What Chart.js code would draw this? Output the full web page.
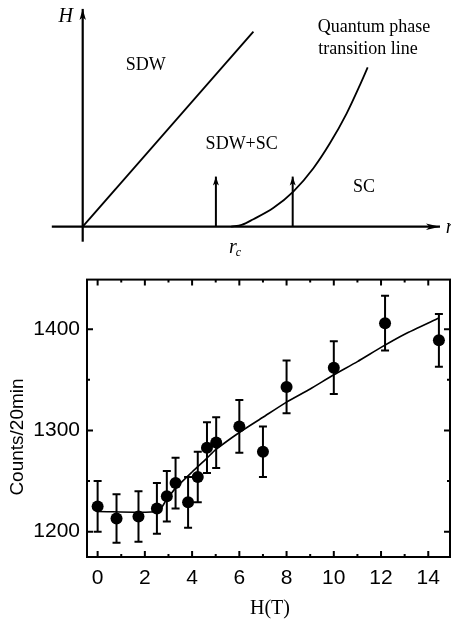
<!DOCTYPE html>
<html lang="en">
<head>
<meta charset="UTF-8">
<title>SDW phase diagram and counts vs field</title>
<script src="https://cdn.jsdelivr.net/npm/chart.js"></script>
<style>
  html, body { margin: 0; padding: 0; background: #fff; }
  body { width: 451px; height: 624px; overflow: hidden; position: relative; }
  #top { position: absolute; left: 0; top: 0; }
  /* the right frame of the lower plot is cropped in the original figure */
  #bottomWrap { position: absolute; left: 0; top: 260px; width: 451px; height: 364px; overflow: hidden; }
  #bottom { position: absolute; left: 0; top: 0; }
</style>
</head>
<body>
<canvas id="top" width="451" height="260"></canvas>
<div id="bottomWrap"><canvas id="bottom" width="456" height="364"></canvas></div>

<script>
// ---- schematic phase diagram (arbitrary units, origin at r=0, H=0)
const sdwR = [0, 5.69];
const sdwH = [0, 6.5];
const qptR = [4.95, 5.3, 5.69, 6.35, 7.02, 7.69, 8.24, 8.8, 9.24, 9.5];
const qptH = [0, 0.06, 0.25, 0.62, 1.17, 1.95, 2.78, 3.78, 4.72, 5.31];
const arrowR = [4.44, 7.0];
const arrowH = 1.67;
const rAxis = [-1.03, 11.91];
const hAxis = [-0.5, 7.26];
const phaseLabels = ['SDW', 'SDW+SC', 'SC', 'Quantum phase', 'transition line'];
const phaseLabelR = [2.1, 5.3, 9.38, 9.71, 9.51];
const phaseLabelH = [5.39, 2.75, 1.3, 6.65, 5.91];

// ---- counts vs field
const fieldT = [0, 0.8, 1.73, 2.51, 2.93, 3.3, 3.83, 4.24, 4.63, 5.02, 6.0, 7.0, 8.0, 10.0, 12.17, 14.45];
const counts = [1225, 1213, 1215, 1223, 1235, 1248, 1229, 1254, 1283, 1288, 1304, 1279, 1343, 1362, 1406, 1389];
const countErr = [25, 24, 25, 25, 25, 25, 25, 25, 25, 25, 26, 25, 26, 26, 27, 26];
const fitT = [0, 2.55, 2.9, 3.3, 4.0, 4.6, 5.0, 6, 7, 8, 9, 10, 11, 12, 13, 14.45];
const fitC = [1220, 1220, 1231, 1243, 1259, 1272, 1281, 1298, 1313, 1328, 1341, 1355, 1368, 1382, 1395, 1411];
const xMajor = [0, 2, 4, 6, 8, 10, 12, 14];
const xMinor = [1, 3, 5, 7, 9, 11, 13];
const yMajor = [1200, 1300, 1400];
const yMinor = [1250, 1350];

const pts = (xs, ys) => xs.map((x, i) => ({ x, y: ys[i] }));
const lineDs = (data, extra) => Object.assign({
  data, showLine: true, borderColor: '#000', backgroundColor: '#000',
  borderWidth: 2, pointRadius: 0, fill: false
}, extra);

const SERIF = '"Liberation Serif", "Times New Roman", serif';
const SANS = '"Liberation Sans", Arial, sans-serif';

// arrowheads at the last point of a dataset
const arrowPlugin = {
  id: 'arrows',
  afterDatasetsDraw(chart) {
    const ctx = chart.ctx;
    chart.data.datasets.forEach((ds, i) => {
      if (!ds.arrow) return;
      const els = chart.getDatasetMeta(i).data;
      const a = els[els.length - 2], b = els[els.length - 1];
      const ang = Math.atan2(b.y - a.y, b.x - a.x);
      const { len, half } = ds.arrow;
      ctx.save();
      ctx.translate(b.x, b.y);
      ctx.rotate(ang);
      ctx.beginPath();
      ctx.moveTo(0, 0);
      ctx.lineTo(-len, -half);
      ctx.lineTo(-len * 0.75, 0);
      ctx.lineTo(-len, half);
      ctx.closePath();
      ctx.fillStyle = '#000';
      ctx.fill();
      ctx.restore();
    });
  }
};

const phaseTextPlugin = {
  id: 'phaseText',
  afterDatasetsDraw(chart) {
    const { ctx, scales: { x, y } } = chart;
    ctx.save();
    ctx.fillStyle = '#000';
    ctx.textAlign = 'center';
    ctx.textBaseline = 'middle';
    ctx.font = '18px ' + SERIF;
    phaseLabels.forEach((t, i) => {
      ctx.fillText(t, x.getPixelForValue(phaseLabelR[i]), y.getPixelForValue(phaseLabelH[i]));
    });
    // axis names
    ctx.font = 'italic 20px ' + SERIF;
    ctx.fillText('H', x.getPixelForValue(-0.57), y.getPixelForValue(7.0));
    ctx.textAlign = 'left';
    ctx.fillText('r', x.getPixelForValue(12.1), y.getPixelForValue(-0.02));
    // r_c under the axis
    ctx.fillText('r', x.getPixelForValue(4.88), y.getPixelForValue(-0.7));
    ctx.font = 'italic 12px ' + SERIF;
    ctx.fillText('c', x.getPixelForValue(5.1), y.getPixelForValue(-0.88));
    ctx.restore();
  }
};

new Chart(document.getElementById('top'), {
  type: 'scatter',
  data: {
    datasets: [
      lineDs(pts(rAxis, [0, 0]), { borderWidth: 2.2, arrow: { len: 14, half: 3.2 } }),
      lineDs(pts([0, 0], hAxis), { borderWidth: 2.2, arrow: { len: 11, half: 3.2 } }),
      lineDs(pts(sdwR, sdwH), { borderWidth: 1.8 }),
      lineDs(pts(qptR, qptH), { borderWidth: 1.8, cubicInterpolationMode: 'monotone' }),
      ...arrowR.map(r => lineDs(pts([r, r], [0, arrowH]), { borderWidth: 2, arrow: { len: 9, half: 3 } }))
    ]
  },
  options: {
    responsive: false,
    animation: false,
    events: [],
    layout: { padding: 0 },
    plugins: { legend: { display: false }, tooltip: { enabled: false } },
    scales: {
      x: { type: 'linear', display: false, min: -2.757, max: 12.277 },
      y: { type: 'linear', display: false, min: -1.11, max: 7.557 }
    }
  },
  plugins: [arrowPlugin, phaseTextPlugin]
});

// ---- lower plot helpers
const errorBarPlugin = {
  id: 'errorBars',
  beforeDatasetsDraw(chart) {
    const { ctx, scales: { x, y } } = chart;
    ctx.save();
    ctx.strokeStyle = '#000';
    ctx.lineWidth = 2;
    fieldT.forEach((t, i) => {
      const px = x.getPixelForValue(t);
      const top = y.getPixelForValue(counts[i] + countErr[i]);
      const bot = y.getPixelForValue(counts[i] - countErr[i]);
      ctx.beginPath();
      ctx.moveTo(px, top); ctx.lineTo(px, bot);
      ctx.moveTo(px - 4, top); ctx.lineTo(px + 4, top);
      ctx.moveTo(px - 4, bot); ctx.lineTo(px + 4, bot);
      ctx.stroke();
    });
    ctx.restore();
  }
};

const framePlugin = {
  id: 'frame',
  afterDatasetsDraw(chart) {
    const { ctx, chartArea: a, scales: { x, y } } = chart;
    ctx.save();
    ctx.strokeStyle = '#000';
    ctx.lineWidth = 2;
    ctx.strokeRect(a.left, a.top, a.right - a.left, a.bottom - a.top);
    ctx.beginPath();
    const tick = (vals, len) => {
      vals.forEach(v => {
        const px = x.getPixelForValue(v);
        ctx.moveTo(px, a.bottom); ctx.lineTo(px, a.bottom - len);
        ctx.moveTo(px, a.top); ctx.lineTo(px, a.top + len);
      });
    };
    const ytick = (vals, len) => {
      vals.forEach(v => {
        const py = y.getPixelForValue(v);
        ctx.moveTo(a.left, py); ctx.lineTo(a.left + len, py);
        ctx.moveTo(a.right, py); ctx.lineTo(a.right - len, py);
      });
    };
    tick(xMajor, 6); tick(xMinor, 3);
    ytick(yMajor, 6); ytick(yMinor, 3);
    ctx.stroke();

    ctx.fillStyle = '#000';
    ctx.textAlign = 'center';
    ctx.textBaseline = 'middle';
    ctx.font = '20px ' + SERIF;
    ctx.fillText('H(T)', 270, 349);
    ctx.save();
    ctx.translate(18, 177);
    ctx.rotate(-Math.PI / 2);
    ctx.font = '19px ' + SANS;
    ctx.fillText('Counts/20min', 0, 0);
    ctx.restore();
    ctx.restore();
  }
};

new Chart(document.getElementById('bottom'), {
  type: 'scatter',
  data: {
    datasets: [
      {
        data: pts(fieldT, counts),
        pointRadius: 6,
        pointBackgroundColor: '#000',
        pointBorderColor: '#000',
        pointBorderWidth: 0,
        showLine: false
      },
      lineDs(pts(fitT, fitC), { borderWidth: 1.6, tension: 0.2 })
    ]
  },
  options: {
    responsive: false,
    animation: false,
    events: [],
    layout: { padding: { top: 18, right: 4, left: 0, bottom: 0 } },
    plugins: { legend: { display: false }, tooltip: { enabled: false } },
    scales: {
      x: {
        type: 'linear', min: -0.45, max: 14.92,
        afterFit(s) { s.height = 67; },
        afterBuildTicks(s) { s.ticks = xMajor.map(v => ({ value: v })); },
        grid: { display: false, drawTicks: false },
        border: { display: false },
        ticks: { padding: 9, maxRotation: 0, autoSkip: false, color: '#000', font: { family: SANS, size: 21 }, callback: v => String(v) }
      },
      y: {
        type: 'linear', min: 1175, max: 1449,
        afterFit(s) { s.width = 87; },
        afterBuildTicks(s) { s.ticks = yMajor.map(v => ({ value: v })); },
        grid: { display: false, drawTicks: false },
        border: { display: false },
        ticks: { padding: 7, color: '#000', font: { family: SANS, size: 21 }, callback: v => String(v) }
      }
    }
  },
  plugins: [errorBarPlugin, framePlugin]
});
</script>
</body>
</html>
